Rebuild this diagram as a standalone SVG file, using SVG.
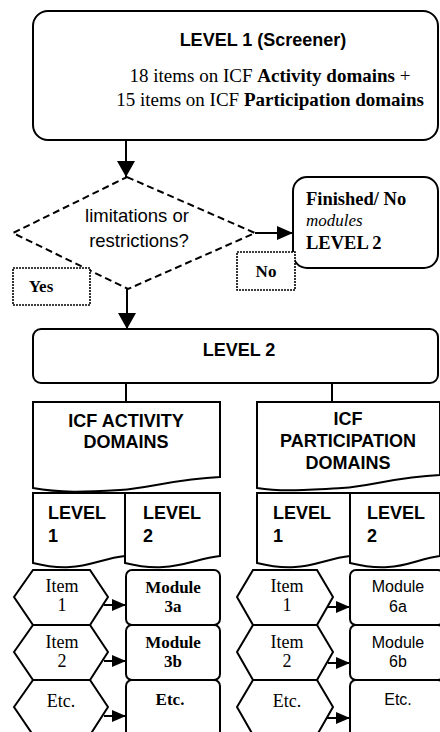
<svg xmlns="http://www.w3.org/2000/svg" width="440" height="732" viewBox="0 0 440 732">
<style>
.box{fill:#fff;stroke:#000;stroke-width:2}
.dash{fill:#fff;stroke:#000;stroke-width:2;stroke-dasharray:7,4}
.dot{fill:#fff;stroke:#000;stroke-width:1.6;stroke-dasharray:2,1}
.ln{fill:none;stroke:#000;stroke-width:2}
.sb{font-family:"Liberation Sans",Arial,sans-serif;font-weight:bold;font-size:18px;fill:#000}
.sr{font-family:"Liberation Sans",Arial,sans-serif;font-size:18.5px;fill:#000}
.ss{font-family:"Liberation Sans",Arial,sans-serif;font-size:16px;fill:#000}
.tr{font-family:"Liberation Serif","Times New Roman",serif;font-size:18px;fill:#000}
.tt{font-family:"Liberation Serif","Times New Roman",serif;font-size:19px;fill:#000}
.tb{font-family:"Liberation Serif","Times New Roman",serif;font-size:17px;font-weight:bold;fill:#000}
.tf{font-family:"Liberation Serif","Times New Roman",serif;font-size:18.5px;font-weight:bold;fill:#000}
.ti{font-family:"Liberation Serif","Times New Roman",serif;font-size:17px;font-style:italic;fill:#000}
.mid{text-anchor:middle}
</style>
<defs>
<marker id="aL" markerUnits="userSpaceOnUse" markerWidth="18" markerHeight="18" viewBox="0 0 16 18" refX="16" refY="9" orient="auto"><path d="M0,0 L16,9 L0,18 Z" fill="#000"/></marker>
<marker id="aM" markerUnits="userSpaceOnUse" markerWidth="16" markerHeight="14" viewBox="0 0 16 14" refX="16" refY="7" orient="auto"><path d="M0,0 L16,7 L0,14 Z" fill="#000"/></marker>
<marker id="aS" markerUnits="userSpaceOnUse" markerWidth="14" markerHeight="12" viewBox="0 0 14 12" refX="14" refY="6" orient="auto"><path d="M0,0 L14,6 L0,12 Z" fill="#000"/></marker>
</defs>

<g id="connectors">
<line class="ln" x1="126" y1="140" x2="126" y2="177" marker-end="url(#aL)"/>
<line class="ln" x1="255" y1="233" x2="293" y2="233" marker-end="url(#aM)"/>
<line class="ln" x1="127" y1="289" x2="127" y2="329" marker-end="url(#aL)"/>
<line class="ln" x1="126" y1="383" x2="126" y2="402"/>
<line class="ln" x1="332" y1="383" x2="332" y2="402"/>
<line class="ln" x1="104" y1="605" x2="126" y2="605" marker-end="url(#aS)"/>
<line class="ln" x1="104" y1="661" x2="126" y2="661" marker-end="url(#aS)"/>
<line class="ln" x1="104" y1="716" x2="126" y2="716" marker-end="url(#aS)"/>
<line class="ln" x1="328" y1="607" x2="350" y2="607" marker-end="url(#aS)"/>
<line class="ln" x1="328" y1="663" x2="350" y2="663" marker-end="url(#aS)"/>
<line class="ln" x1="312" y1="718" x2="350" y2="718" marker-end="url(#aS)"/>
</g>

<g id="level1">
<rect class="box" x="33" y="11" width="405" height="129" rx="15"/>
<text class="sb mid" x="263" y="46">LEVEL 1 (Screener)</text>
<text class="tt mid" x="270" y="82">18 items on ICF <tspan font-weight="bold">Activity domains</tspan> +</text>
<text class="tt mid" x="270" y="106">15 items on ICF <tspan font-weight="bold">Participation domains</tspan></text>
</g>

<g id="decision">
<polygon class="dash" points="127,177 255,233 128,289 13,233"/>
<text class="sr mid" x="137" y="222">limitations or</text>
<text class="sr mid" x="139" y="247">restrictions?</text>
</g>

<g id="finished">
<rect class="box" x="293" y="177" width="145" height="91" rx="14"/>
<text class="tf" x="306" y="205">Finished/ No</text>
<text class="ti" x="306" y="226">modules</text>
<text class="tf" x="306" y="249">LEVEL 2</text>
</g>

<g id="yes">
<rect class="dot" x="13" y="268" width="77" height="37"/>
<text class="tb mid" x="41" y="292">Yes</text>
</g>

<g id="no">
<rect class="dot" x="237" y="252" width="58" height="38"/>
<text class="tb mid" x="266" y="277">No</text>
</g>

<g id="level2">
<rect class="box" x="33" y="329" width="405" height="54" rx="8"/>
<text class="sb mid" x="239" y="356">LEVEL 2</text>
</g>

<g id="activity">
<path class="box" d="M33,402 H220 V477 C175,479 150,488 120,490 C85,492 60,493 33,488 Z"/>
<text class="sb mid" x="126" y="427">ICF ACTIVITY</text>
<text class="sb mid" x="126" y="448">DOMAINS</text>
</g>

<g id="participation">
<path class="box" d="M257,402 H440 V475 C395,477 372,486 342,488 C307,490 282,492 257,488 Z"/>
<text class="sb mid" x="348" y="425">ICF</text>
<text class="sb mid" x="348" y="447">PARTICIPATION</text>
<text class="sb mid" x="348" y="469">DOMAINS</text>
</g>

<g id="act-level1">
<path class="box" d="M33,493 H125 V556 C105,558 90,566 70,567 C55,568 45,566 33,563 Z"/>
<text class="sb" x="48" y="519">LEVEL</text>
<text class="sb" x="48" y="542">1</text>
</g>
<g id="act-level2">
<path class="box" d="M125,493 H220 V556 C200,558 185,566 163,567 C148,568 137,566 125,563 Z"/>
<text class="sb" x="143" y="519">LEVEL</text>
<text class="sb" x="143" y="542">2</text>
</g>
<g id="par-level1">
<path class="box" d="M257,493 H350 V556 C330,558 315,566 295,567 C280,568 269,566 257,563 Z"/>
<text class="sb" x="273" y="519">LEVEL</text>
<text class="sb" x="273" y="542">1</text>
</g>
<g id="par-level2">
<path class="box" d="M350,493 H440 V556 C422,558 408,566 388,567 C373,568 362,566 350,563 Z"/>
<text class="sb" x="367" y="519">LEVEL</text>
<text class="sb" x="367" y="542">2</text>
</g>

<g id="act-item1">
<polygon class="box" points="14,597 33,570 90,570 108,597 90,625 33,625"/>
<text class="tr mid" x="62" y="592">Item</text>
<text class="tr mid" x="62" y="611">1</text>
</g>
<g id="act-item2">
<polygon class="box" points="14,652 33,625 90,625 108,652 90,680 33,680"/>
<text class="tr mid" x="62" y="648">Item</text>
<text class="tr mid" x="62" y="667">2</text>
</g>
<g id="act-item3">
<polygon class="box" points="14,707 33,680 90,680 108,707 90,735 33,735"/>
<text class="tr mid" x="61" y="707">Etc.</text>
</g>
<g id="act-module1">
<rect class="box" x="126" y="570" width="94" height="55" rx="6"/>
<text class="tb mid" x="173" y="593">Module</text>
<text class="tb mid" x="173" y="612">3a</text>
</g>
<g id="act-module2">
<rect class="box" x="126" y="625" width="94" height="55" rx="6"/>
<text class="tb mid" x="173" y="648">Module</text>
<text class="tb mid" x="173" y="667">3b</text>
</g>
<g id="act-module3">
<rect class="box" x="126" y="680" width="94" height="60" rx="6"/>
<text class="tb mid" x="170" y="705">Etc.</text>
</g>

<g id="par-item1">
<polygon class="box" points="237,597 253,570 317,570 333,597 317,625 253,625"/>
<text class="tr mid" x="287" y="592">Item</text>
<text class="tr mid" x="287" y="611">1</text>
</g>
<g id="par-item2">
<polygon class="box" points="237,652 253,625 317,625 333,652 317,680 253,680"/>
<text class="tr mid" x="287" y="648">Item</text>
<text class="tr mid" x="287" y="667">2</text>
</g>
<g id="par-item3">
<polygon class="box" points="237,707 253,680 317,680 333,707 317,735 253,735"/>
<text class="tr mid" x="287" y="707">Etc.</text>
</g>
<g id="par-module1">
<rect class="box" x="350" y="570" width="94" height="55" rx="6"/>
<text class="ss mid" x="398" y="592">Module</text>
<text class="ss mid" x="398" y="612">6a</text>
</g>
<g id="par-module2">
<rect class="box" x="350" y="625" width="94" height="55" rx="6"/>
<text class="ss mid" x="398" y="648">Module</text>
<text class="ss mid" x="398" y="667">6b</text>
</g>
<g id="par-module3">
<rect class="box" x="350" y="680" width="94" height="60" rx="6"/>
<text class="ss mid" x="398" y="705">Etc.</text>
</g>
</svg>
